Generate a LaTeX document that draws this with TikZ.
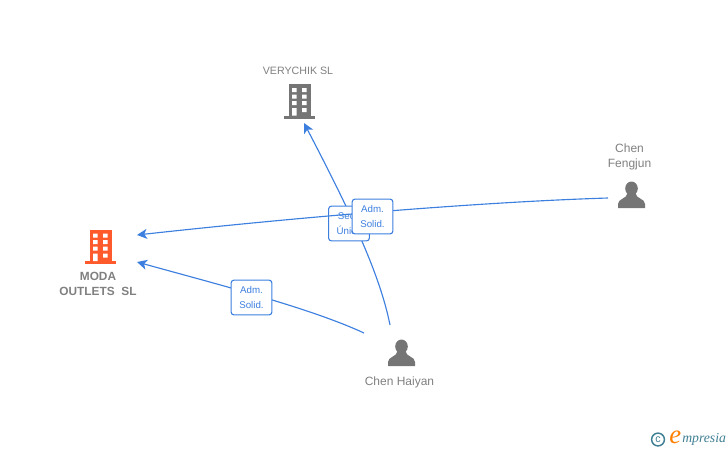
\documentclass[tikz,border=0pt]{standalone}
\usepackage{fontspec}
\setmainfont{Liberation Sans}
\newfontfamily\logofont{Liberation Serif}
\usetikzlibrary{arrows.meta}
\definecolor{linkblue}{HTML}{3C7FDF}
\definecolor{icongray}{HTML}{757575}
\definecolor{labelgray}{HTML}{808080}
\definecolor{iconorange}{HTML}{FF5A2B}
\definecolor{logoteal}{HTML}{3F7F93}
\tikzset{
  link/.style={linkblue, line width=0.85pt},
  linkarrow/.style={link, -{Stealth[length=7.5pt,width=7.5pt,inset=2pt]}},
  rolebox/.style={draw=linkblue, fill=white, line width=0.8pt, rounded corners=2pt,
    minimum width=30.5pt, minimum height=26pt, inner sep=0pt, align=center,
    text=linkblue, font=\fontsize{7.3}{11.2}\selectfont},
  namelabel/.style={labelgray, align=center, inner sep=0pt, font=\fontsize{9}{11.4}\selectfont},
  pics/building/.style={code={
    \fill[#1] (-11,-16.5) rectangle (11,15.5);
    \fill[#1] (-15.7,15) rectangle (15.7,18);
    \fill[white] (-7.5,-12.5) rectangle (-3,-8.5) (2.5,-12.5) rectangle (7,-8.5);
    \fill[white] (-7.5,-6) rectangle (-3,-2) (2.5,-6) rectangle (7,-2);
    \fill[white] (-7.5,0.5) rectangle (-3,4.5) (2.5,0.5) rectangle (7,4.5);
    \fill[white] (-7.5,7.5) rectangle (-3,15) (2.5,7.5) rectangle (7,11.5);
  }},
  pics/person/.style={code={
    \fill[icongray] (0,-6.5) ellipse (6.3 and 7);
    \fill[icongray] (-13.5,13) -- (-13.5,9) .. controls (-13.5,3.5) and (-4.5,4) .. (-4,-2)
      -- (4,-2) .. controls (4.5,4) and (13.5,3.5) .. (13.5,9) -- (13.5,13) -- cycle;
  }}
}
\begin{document}
\begin{tikzpicture}[x=0.75pt, y=-0.75pt]
\useasboundingbox (0,0) rectangle (728,450);
\coordinate (moda top) at (137,235);
\coordinate (moda low) at (137,262);
\coordinate (verychik foot) at (304,123);
\coordinate (haiyan left) at (364,333);
\coordinate (haiyan top) at (390,325);
\coordinate (fengjun left) at (608,198);

% icons and names
\pic at (100.5,246) {building=iconorange};
\pic at (299.7,100.5) {building=icongray};
\pic at (401.5,353) {person};
\pic at (631.5,195) {person};
\node[namelabel, font=\fontsize{8.9}{11.2}\selectfont\bfseries] (moda) at (98,283.5) {MODA\\OUTLETS~~SL};
\node[namelabel, font=\fontsize{8}{10}\selectfont] (verychik) at (298,70.5) {VERYCHIK SL};
\node[namelabel] (haiyan) at (399.5,382) {Chen Haiyan};
\node[namelabel] (fengjun) at (629.5,156.5) {Chen\\Fengjun};

% links
\draw[linkarrow] (haiyan top) .. controls (380,275) and (352,215) .. (verychik foot);
\draw[linkarrow] (haiyan left) .. controls (310,308) and (220,285) .. (moda low);
\node[rolebox] (box single) at (349,223.5) {Secr.\\Único};
\draw[linkarrow] (fengjun left) .. controls (480,202) and (300,217) .. (moda top);
\node[rolebox] (box fengjun) at (372.5,216.5) {Adm.\\Solid.};
\node[rolebox] (box haiyan) at (251.5,297.5) {Adm.\\Solid.};

% logo
\node[circle, draw=logoteal, line width=1.1pt, minimum size=9.6pt, inner sep=0pt, logoteal,
  font=\fontsize{8}{8}\selectfont] (logo c) at (658,439.5) {c};
\node[logoteal, inner sep=0pt, anchor=west, font=\logofont\fontsize{10.3}{10}\selectfont\itshape] (logo text) at (682,439.5) {mpresia};
\node[orange, inner sep=0pt, anchor=east, font=\logofont\fontsize{20}{20}\selectfont\itshape] (logo e) at (681.5,437) {e};
\end{tikzpicture}
\end{document}
